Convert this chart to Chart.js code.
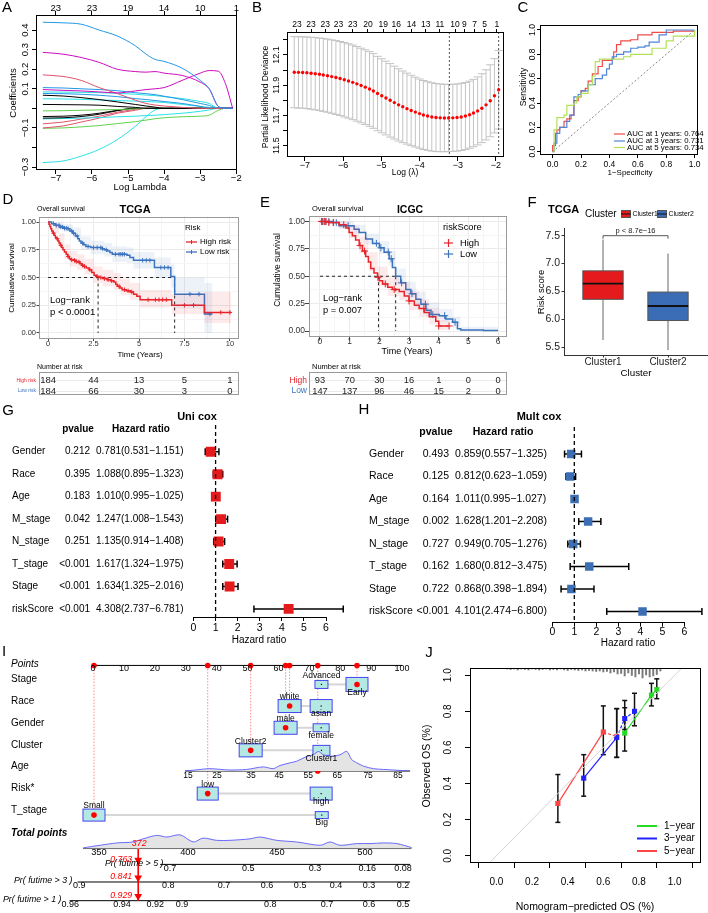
<!DOCTYPE html>
<html lang="en">
<head>
<meta charset="UTF-8">
<title>Prognostic signature figure</title>
<script src="https://cdn.jsdelivr.net/npm/chart.js@4.4.1/dist/chart.umd.min.js"></script>
<style>
  body { margin: 0; background: #fff; }
  #page { position: relative; width: 708px; height: 913px; overflow: hidden; background: #fff; }
  #page canvas { position: absolute; left: 0; top: 0; }
</style>
</head>
<body>
<div id="page"></div>
<script>
// ---------------- data ----------------
// A: lasso coefficient paths
const lamA = [-7.36, -6.8, -6.3, -5.8, -5.3, -4.8, -4.5, -4.25, -4.0, -3.5, -3.0, -2.75, -2.5, -2.3, -2.1];
const coefA = [
  [0.44, 0.437, 0.43, 0.40, 0.37, 0.32, 0.277, 0.25, 0.24, 0.205, 0.143, 0.10, 0.01, 0, 0],
  [0.286, 0.277, 0.26, 0.235, 0.20, 0.188, 0.185, 0.188, 0.18, 0.168, 0.134, 0.10, 0.01, 0, 0],
  [0.096, 0.092, 0.089, 0.084, 0.079, 0.089, 0.096, 0.10, 0.106, 0.143, 0.18, 0.193, 0.19, 0.126, 0],
  [0.171, 0.163, 0.143, 0.106, 0.076, 0.042, 0.025, 0.017, 0.012, 0.005, 0, 0, 0, 0, 0],
  [0.106, 0.104, 0.10, 0.096, 0.09, 0.08, 0.075, 0.07, 0.062, 0.045, 0.025, 0.015, 0, 0, 0],
  [0.084, 0.083, 0.082, 0.08, 0.077, 0.072, 0.068, 0.065, 0.06, 0.05, 0.035, 0.025, 0, 0, 0],
  [0.076, 0.075, 0.072, 0.067, 0.06, 0.05, 0.045, 0.04, 0.035, 0.025, 0.01, 0, 0, 0, 0],
  [0.067, 0.063, 0.055, 0.045, 0.033, 0.02, 0.012, 0.006, 0, 0, 0, 0, 0, 0, 0],
  [0.049, 0.048, 0.046, 0.043, 0.04, 0.037, 0.035, 0.033, 0.03, 0.02, 0.01, 0.005, 0, 0, 0],
  [0.02, 0.019, 0.018, 0.016, 0.01, 0.005, 0, 0, 0, 0, 0, 0, 0, 0, 0],
  [-0.013, -0.012, -0.01, -0.008, -0.006, -0.003, 0, 0, 0, 0, 0, 0, 0, 0, 0],
  [-0.042, -0.04, -0.035, -0.025, -0.01, 0, 0, 0, 0, 0, 0, 0, 0, 0, 0],
  [-0.05, -0.048, -0.042, -0.03, -0.012, 0, 0, 0, 0, 0, 0, 0, 0, 0, 0],
  [-0.054, -0.052, -0.05, -0.047, -0.043, -0.04, -0.037, -0.035, -0.032, -0.025, -0.015, -0.008, 0, 0, 0],
  [-0.079, -0.07, -0.055, -0.04, -0.02, -0.005, 0, 0, 0, 0, 0, 0, 0, 0, 0],
  [-0.1, -0.09, -0.07, -0.05, -0.025, -0.01, 0, 0, 0, 0, 0, 0, 0, 0, 0],
  [-0.102, -0.1, -0.095, -0.088, -0.078, -0.068, -0.06, -0.053, -0.048, -0.043, -0.04, -0.035, -0.01, 0, 0],
  [-0.277, -0.269, -0.244, -0.21, -0.16, -0.092, -0.042, -0.008, 0, 0, 0, 0, 0, 0, 0]
];
const colA = ['#2297E6', '#CD0BBC', '#CD0BBC', '#DF536B', '#2297E6', '#28E2E5', '#2297E6', '#000000', '#28E2E5',
  '#000000', '#61D04F', '#000000', '#000000', '#28E2E5', '#DF536B', '#DF536B', '#61D04F', '#28E2E5'];
const xTicksA = [-7, -6, -5, -4, -3, -2];
const xLabA = ['−7', '−6', '−5', '−4', '−3', '−2'];
const topLabA = ['23', '23', '19', '14', '10', '1'];
const yTicksA = [-0.3, -0.2, -0.1, 0, 0.1, 0.2, 0.3, 0.4];
const yLabA = ['−0.3', '', '−0.1', '', '0.1', '0.2', '0.3', '0.4'];

// B: cross-validation curve
const lamB = [-7.28, -7.17, -7.06, -6.95, -6.84, -6.73, -6.62, -6.52, -6.41, -6.30, -6.19, -6.08, -5.97, -5.86, -5.75,
  -5.64, -5.53, -5.42, -5.31, -5.21, -5.10, -4.99, -4.88, -4.77, -4.66, -4.55, -4.44, -4.33, -4.22, -4.11, -4.00,
  -3.90, -3.79, -3.68, -3.57, -3.46, -3.35, -3.24, -3.13, -3.02, -2.91, -2.80, -2.69, -2.59, -2.48, -2.37, -2.26,
  -2.15, -2.04, -1.93];
const cvmB = [11.986, 11.985, 11.984, 11.982, 11.979, 11.976, 11.972, 11.968, 11.963, 11.957, 11.951, 11.944, 11.936,
  11.928, 11.919, 11.909, 11.898, 11.887, 11.875, 11.862, 11.845, 11.830, 11.815, 11.800, 11.785, 11.770, 11.757,
  11.745, 11.733, 11.722, 11.712, 11.703, 11.696, 11.690, 11.686, 11.684, 11.683, 11.683, 11.684, 11.686, 11.690,
  11.696, 11.705, 11.716, 11.730, 11.748, 11.770, 11.797, 11.830, 11.870];
const sdB = [0.235, 0.236, 0.236, 0.237, 0.238, 0.239, 0.240, 0.241, 0.242, 0.243, 0.244, 0.245, 0.246, 0.246, 0.247,
  0.247, 0.247, 0.247, 0.247, 0.247, 0.246, 0.245, 0.244, 0.243, 0.241, 0.239, 0.237, 0.235, 0.233, 0.231, 0.229,
  0.228, 0.227, 0.226, 0.225, 0.224, 0.223, 0.222, 0.222, 0.222, 0.222, 0.222, 0.222, 0.223, 0.225, 0.228, 0.232,
  0.238, 0.246, 0.260];
const lamMinB = -3.22, lam1seB = -1.93;
const topPosB = [-7.21, -6.84, -6.47, -6.12, -5.75, -5.35, -4.95, -4.61, -4.21, -3.84, -3.47, -3.07, -2.83, -2.56, -2.30, -1.98];
const topLabB = ['23', '23', '23', '23', '23', '20', '19', '16', '14', '13', '11', '10', '9', '7', '5', '1'];
const yTicksB = [11.5, 11.6, 11.7, 11.8, 11.9, 12.0, 12.1, 12.2];
const yLabB = ['11.5', '', '11.7', '', '11.9', '', '12.1', ''];

// C: time-dependent ROC
const rocX1 = [0, 0, 0.02, 0.02, 0.03, 0.05, 0.08, 0.1, 0.13, 0.15, 0.18, 0.2, 0.23, 0.25, 0.28, 0.32, 0.35, 0.42, 0.43, 0.45, 0.48, 0.55, 0.6, 0.7, 0.85, 1];
const rocY1 = [0, 0.05, 0.1, 0.15, 0.18, 0.2, 0.25, 0.27, 0.3, 0.42, 0.45, 0.5, 0.52, 0.58, 0.64, 0.7, 0.75, 0.76, 0.82, 0.88, 0.91, 0.92, 0.96, 0.98, 0.99, 1];
const rocX3 = [0, 0.01, 0.03, 0.05, 0.1, 0.12, 0.15, 0.18, 0.2, 0.25, 0.3, 0.35, 0.38, 0.4, 0.42, 0.45, 0.5, 0.55, 0.6, 0.65, 0.68, 0.75, 0.8, 1];
const rocY3 = [0, 0.07, 0.15, 0.2, 0.25, 0.3, 0.45, 0.47, 0.5, 0.55, 0.6, 0.63, 0.68, 0.72, 0.78, 0.8, 0.82, 0.85, 0.86, 0.87, 0.9, 0.96, 1, 1];
const rocX5 = [0, 0.01, 0.03, 0.08, 0.1, 0.15, 0.17, 0.2, 0.25, 0.28, 0.3, 0.33, 0.45, 0.5, 0.55, 0.7, 0.8, 0.85, 1];
const rocY5 = [0, 0.18, 0.28, 0.3, 0.38, 0.4, 0.45, 0.48, 0.55, 0.62, 0.74, 0.76, 0.76, 0.78, 0.8, 0.85, 0.91, 0.95, 1];
const aucLab = ['AUC at 1 years: 0.764', 'AUC at 3 years: 0.731', 'AUC at 5 years: 0.734'];
const unitTicks = [0, 0.2, 0.4, 0.6, 0.8, 1];
const unitLab = ['0.0', '0.2', '0.4', '0.6', '0.8', '1.0'];

// D: TCGA Kaplan-Meier
const kmTD_hi = [0, 0.05, 0.1, 0.15, 0.2, 0.27, 0.33, 0.4, 0.47, 0.54, 0.6, 0.67, 0.75, 0.82, 0.9, 1.0, 1.08, 1.17, 1.27, 1.4,
  1.5, 1.63, 1.75, 1.85, 1.99, 2.1, 2.26, 2.4, 2.53, 2.65, 2.8, 3.0, 3.25, 3.45, 3.62, 3.72, 3.8, 3.95, 4.07, 4.3, 4.52,
  4.7, 4.88, 5.06, 6.8, 8.6, 10.07];
const kmSD_hi = [1, 0.98, 0.96, 0.94, 0.92, 0.9, 0.88, 0.86, 0.85, 0.83, 0.81, 0.79, 0.77, 0.75, 0.73, 0.71, 0.69, 0.67,
  0.66, 0.655, 0.645, 0.64, 0.625, 0.61, 0.60, 0.585, 0.57, 0.545, 0.52, 0.51, 0.50, 0.49, 0.48, 0.47, 0.46, 0.44, 0.42,
  0.405, 0.39, 0.38, 0.37, 0.35, 0.33, 0.30, 0.25, 0.185, 0.185];
const kmTD_lo = [0, 0.2, 0.4, 0.63, 0.85, 1.08, 1.2, 1.36, 1.5, 1.63, 1.72, 1.81, 1.95, 2.08, 2.35, 2.98, 3.1, 3.25, 3.4,
  3.53, 4.34, 4.5, 4.7, 5.85, 6.75, 6.96, 8.6, 9.04];
const kmSD_lo = [1, 0.985, 0.97, 0.955, 0.945, 0.94, 0.92, 0.9, 0.875, 0.85, 0.83, 0.81, 0.795, 0.78, 0.77, 0.76, 0.75,
  0.74, 0.725, 0.71, 0.70, 0.68, 0.655, 0.59, 0.51, 0.35, 0.17, 0.17];
const censD_hi = [0.3, 0.5, 0.7, 1.1, 1.3, 1.45, 1.55, 1.7, 1.9, 2.0, 2.3, 2.7, 2.9, 3.1, 3.3, 3.5, 3.9, 4.2, 4.4, 4.6, 5.5,
  5.9, 6.1, 6.3, 6.5, 7.5, 8.0, 9.5, 10.0];
const censD_lo = [0.3, 0.45, 0.6, 0.7, 0.8, 0.9, 1.0, 1.1, 1.3, 1.4, 1.6, 1.9, 2.2, 2.5, 2.7, 2.9, 3.0, 3.2, 3.7, 3.9, 4.0,
  4.1, 4.2, 5.2, 5.4, 5.6, 6.2, 6.4, 6.6, 7.8, 8.3, 8.9];
const bandTD_hi = [0, 0.3, 0.6, 0.9, 1.2, 1.6, 2.0, 2.5, 3.0, 3.6, 4.0, 4.5, 5.06, 6.8, 8.6, 10.07];
const bandUD_hi = [1, 0.97, 0.9, 0.8, 0.74, 0.71, 0.67, 0.6, 0.57, 0.54, 0.49, 0.45, 0.39, 0.35, 0.37, 0.37];
const bandLD_hi = [1, 0.9, 0.8, 0.67, 0.6, 0.57, 0.53, 0.45, 0.42, 0.39, 0.34, 0.3, 0.23, 0.17, 0.09, 0.09];
const bandTD_lo = [0, 0.4, 0.85, 1.36, 1.81, 2.35, 3.1, 3.53, 4.34, 4.7, 5.85, 6.75, 6.96, 8.6, 9.04];
const bandUD_lo = [1, 1.0, 0.98, 0.95, 0.87, 0.83, 0.81, 0.78, 0.77, 0.73, 0.68, 0.62, 0.5, 0.45, 0.45];
const bandLD_lo = [1, 0.94, 0.91, 0.85, 0.75, 0.71, 0.69, 0.64, 0.63, 0.58, 0.5, 0.41, 0.22, 0.0, 0.0];
const medD = [2.75, 6.96];
const xTicksD = [0, 2.5, 5, 7.5, 10];
const xLabD = ['0', '2.5', '5', '7.5', '10'];
const riskD = [[184, 44, 13, 5, 1], [184, 66, 30, 3, 0]];

// E: ICGC Kaplan-Meier
const kmTE_hi = [0, 0.3, 0.64, 0.87, 0.98, 1.09, 1.2, 1.32, 1.43, 1.54, 1.63, 1.71, 1.82, 1.94, 2.0, 2.11, 2.28, 2.44, 2.67,
  2.84, 3.0, 3.18, 3.34, 3.51, 3.68, 3.9, 4.0, 4.35];
const kmSE_hi = [1, 0.99, 0.97, 0.94, 0.90, 0.87, 0.83, 0.78, 0.73, 0.68, 0.63, 0.57, 0.53, 0.49, 0.46, 0.43, 0.40, 0.38,
  0.36, 0.32, 0.275, 0.235, 0.205, 0.17, 0.13, 0.09, 0.046, 0.046];
const kmTE_lo = [0, 0.41, 0.64, 0.98, 1.15, 1.32, 1.54, 1.77, 2.0, 2.16, 2.33, 2.44, 2.55, 2.72, 2.89, 3.06, 3.23, 3.4, 3.57,
  3.74, 4.02, 4.24, 4.47, 4.63, 4.74, 5.5, 6.0];
const kmSE_lo = [1, 0.99, 0.96, 0.96, 0.93, 0.90, 0.84, 0.80, 0.76, 0.72, 0.66, 0.58, 0.50, 0.44, 0.38, 0.34, 0.29, 0.245,
  0.19, 0.15, 0.14, 0.11, 0.08, 0.02, 0.01, 0.005, 0.005];
const censE_hi = [0.05, 0.1, 0.15, 0.2, 0.3, 0.45, 0.8, 1.35, 1.5, 1.95, 2.2, 2.5, 3.0, 3.5, 4.0, 4.35];
const censE_lo = [0.08, 0.2, 0.3, 0.45, 0.55, 0.95, 1.9, 2.05, 2.3, 2.4, 2.75, 3.1, 3.55, 3.8, 4.2, 4.55];
const bandTE_hi = [0, 0.64, 0.98, 1.32, 1.63, 1.94, 2.28, 2.67, 3.0, 3.34, 3.68, 4.0, 4.35];
const bandUE_hi = [1, 1, 0.96, 0.86, 0.72, 0.59, 0.49, 0.45, 0.37, 0.29, 0.21, 0.1, 0.1];
const bandLE_hi = [1, 0.94, 0.85, 0.71, 0.55, 0.41, 0.32, 0.28, 0.19, 0.13, 0.06, 0.01, 0.01];
const bandTE_lo = [0, 0.64, 1.15, 1.54, 2.0, 2.33, 2.55, 2.89, 3.23, 3.57, 4.02, 4.47, 4.74, 6.0];
const bandUE_lo = [1, 1, 0.97, 0.89, 0.82, 0.73, 0.57, 0.45, 0.36, 0.26, 0.2, 0.13, 0.04, 0.04];
const bandLE_lo = [1, 0.93, 0.89, 0.79, 0.70, 0.59, 0.43, 0.31, 0.22, 0.13, 0.08, 0.03, 0.0, 0.0];
const medE = [1.97, 2.55];
const xTicksE = [0, 1, 2, 3, 4, 5, 6];
const riskE = [[93, 70, 30, 16, 1, 0, 0], [147, 137, 96, 46, 15, 2, 0]];
const survTicks = [0, 0.25, 0.5, 0.75, 1];
const survLab = ['0.00', '0.25', '0.50', '0.75', '1.00'];
const survMinor = [0.125, 0.375, 0.625, 0.875];

// F: risk score by cluster
const clusters = ['Cluster1', 'Cluster2'];
const boxMin = [5.63, 5.45], boxQ1 = [6.36, 5.98], boxMed = [6.64, 6.24], boxQ3 = [6.87, 6.49], boxMax = [7.43, 7.18];
const yTicksF = [5.5, 6.0, 6.5, 7.0, 7.5];
const yLabF = ['5.5', '6.0', '6.5', '7.0', '7.5'];

// G, H: Cox regression
const coxVars = ['Gender', 'Race', 'Age', 'M_stage', 'N_stage', 'T_stage', 'Stage', 'riskScore'];
const uniP = ['0.212', '0.395', '0.183', '0.042', '0.251', '<0.001', '<0.001', '<0.001'];
const uniHR = [0.781, 1.088, 1.010, 1.247, 1.135, 1.617, 1.634, 4.308];
const uniLo = [0.531, 0.895, 0.995, 1.008, 0.914, 1.324, 1.325, 2.737];
const uniHi = [1.151, 1.323, 1.025, 1.543, 1.408, 1.975, 2.016, 6.781];
const multP = ['0.493', '0.125', '0.164', '0.002', '0.727', '0.162', '0.722', '<0.001'];
const multHR = [0.859, 0.812, 1.011, 1.628, 0.949, 1.680, 0.868, 4.101];
const multLo = [0.557, 0.623, 0.995, 1.201, 0.705, 0.812, 0.398, 2.474];
const multHi = [1.325, 1.059, 1.027, 2.208, 1.276, 3.475, 1.894, 6.800];
const hrTicks = [0, 1, 2, 3, 4, 5, 6];

// I: nomogram (positions on the Points scale)
const nomoVars = ['Stage', 'Race', 'Gender', 'Cluster', 'Risk*', 'T_stage'];
const nomoLev = [['Advanced', 'Early'], ['white', 'asian'], ['male', 'female'], ['Cluster2', 'Cluster1'], ['low', 'high'], ['Small', 'Big']];
const nomoLevPts = [[73.9, 85.4], [63.6, 73.8], [62.3, 73.8], [51.0, 73.9], [37.1, 73.8], [0.3, 74.0]];
const nomoPick = [1, 0, 0, 0, 0, 0];
const pointTicks = [0, 10, 20, 30, 40, 50, 60, 70, 80, 90, 100];
const ageTicks = ['15', '25', '35', '45', '55', '65', '75', '85'];
const ageTickPts = [30.7, 40.1, 51.1, 60.2, 69.6, 79.0, 89.0, 98.7];
const ageSelPts = 72.7;
const ageDensPts = [29.8, 33.7, 37.5, 41.4, 44.3, 49.7, 55.1, 58.3, 60.5, 63.8, 65.9, 69.2, 71.3, 72.9, 74.5, 76.7, 79.9,
  82.1, 83.7, 85.3, 87.5, 90.7, 93.9, 97.2, 102.0];
const ageDens = [0.0, 0.06, 0.12, 0.08, 0.05, 0.08, 0.21, 0.12, 0.28, 0.42, 0.5, 0.75, 0.83, 1.0, 0.83, 0.75, 0.83, 1.0,
  0.58, 0.42, 0.25, 0.12, 0.08, 0.05, 0.0];
const totTicks = ['350', '400', '450', '500'];
const totTickPts = [1.9, 30.7, 59.5, 88.0];
const totDensPts = [-3.2, 2.3, 7.7, 12.9, 16.2, 20.6, 23.9, 28.2, 32.4, 35.6, 40, 44.3, 50.8, 54, 59.4, 65.9, 73.5, 76.7,
  79.9, 85.3, 89.6, 93.9, 98.3, 103.1];
const totDens = [0.05, 0.24, 0.41, 0.48, 0.71, 0.96, 0.84, 1.0, 0.48, 0.76, 0.6, 0.6, 0.71, 0.84, 0.6, 0.48, 0.24, 0.48,
  0.24, 0.36, 0.36, 0.41, 0.36, 0.07];
const totalSel = '372', totalSelPts = 14.6;
const prNames = ['Pr( futime > 5 )', 'Pr( futime > 3 )', 'Pr( futime > 1 )'];
const prTicks = [['0.7', '0.5', '0.3', '0.16', '0.08'], ['0.9', '0.8', '0.7', '0.6', '0.5', '0.4', '0.3', '0.2'],
  ['0.96', '0.94', '0.92', '0.9', '0.8', '0.7', '0.6', '0.5']];
const prTickPts = [[24.9, 50.2, 71.8, 88.7, 100.3], [-4.5, 24.3, 42.4, 56.3, 67.0, 78.6, 89.3, 100.3],
  [-7.4, 9.4, 20.1, 28.8, 57.3, 75.7, 89.3, 100.3]];
const prSel = ['0.763', '0.841', '0.929'];

// J: calibration
const calX1 = [0.72, 0.87, 0.90], calY1 = [0.68, 0.89, 0.92], calLo1 = [0.58, 0.83, 0.87], calHi1 = [0.86, 0.955, 0.98];
const calX3 = [0.49, 0.675, 0.72, 0.775], calY3 = [0.43, 0.655, 0.76, 0.80], calLo3 = [0.33, 0.545, 0.70, 0.72], calHi3 = [0.56, 0.815, 0.82, 0.90];
const calX5 = [0.345, 0.60, 0.675], calY5 = [0.29, 0.685, 0.66], calLo5 = [0.185, 0.56, 0.545], calHi5 = [0.45, 0.83, 0.815];
const histX = [0.06, 0.08, 0.10, 0.12, 0.14, 0.16, 0.18, 0.20, 0.22, 0.24, 0.26, 0.28, 0.30, 0.32, 0.34, 0.36, 0.38, 0.40,
  0.42, 0.44, 0.46, 0.48, 0.50, 0.52, 0.54, 0.56, 0.58, 0.60, 0.62, 0.64, 0.66, 0.68, 0.70, 0.72, 0.74, 0.76, 0.78, 0.80,
  0.82, 0.84, 0.86, 0.88, 0.90, 0.92];
const histH = [0.1, 0.15, 0.1, 0.2, 0.1, 0.15, 0.2, 0.1, 0.15, 0.2, 0.15, 0.1, 0.2, 0.15, 0.2, 0.1, 0.2, 0.25, 0.15, 0.2,
  0.25, 0.2, 0.3, 0.25, 0.3, 0.35, 0.3, 0.4, 0.35, 0.5, 0.4, 0.6, 0.55, 0.8, 0.5, 0.75, 0.9, 0.6, 1.0, 0.7, 0.9, 0.8, 0.65, 0.3];
const calNames = ['1−year', '3−year', '5−year'];
const calDashed = [[], [1, 2], [1]];   // segments drawn dashed in the reference

// ---------------- helpers ----------------
const W = 708, H = 913;
const FONT = '"Liberation Sans", Arial, Helvetica, sans-serif';
Chart.defaults.font.family = FONT;
Chart.defaults.animation = false;
Chart.defaults.responsive = false;
Chart.defaults.events = [];
Chart.defaults.plugins.legend.display = false;
Chart.defaults.plugins.tooltip.enabled = false;

const page = document.getElementById('page');
function addChart(box, cfg) {
  const cv = document.createElement('canvas');
  cv.width = W; cv.height = H;
  page.appendChild(cv);
  cfg.options = cfg.options || {};
  cfg.options.layout = {padding: {left: box[0], top: box[1], right: W - box[2], bottom: H - box[3]}};
  return new Chart(cv.getContext('2d'), cfg);
}
function sc(min, max, ticks, o) {
  o = o || {};
  const s = {
    type: 'linear', min: min, max: max, reverse: !!o.reverse,
    afterFit: k => { if (k.isHorizontal()) k.height = 0; else k.width = 0; },
    afterBuildTicks: k => { k.ticks = (ticks || []).map(v => ({value: v})); },
    ticks: {display: false},
    border: {display: !!o.border, color: o.bc || '#000', width: 1},
    grid: {
      display: !!(ticks && ticks.length),
      drawOnChartArea: !!o.gridColor,
      color: o.gridColor || '#000',
      drawTicks: (o.tl || 0) > 0,
      tickLength: o.tl || 0,
      tickColor: o.tc || '#000',
      lineWidth: 1
    }
  };
  if (o.position) s.position = o.position;
  if (o.hide) s.display = false;
  return s;
}
let pid = 0;
function before(fn) { return {id: 'b' + (pid++), beforeDatasetsDraw: c => fn(c, c.ctx, c.chartArea, c.scales)}; }
function after(fn) { return {id: 'a' + (pid++), afterDraw: c => fn(c, c.ctx, c.chartArea, c.scales)}; }
function txt(ctx, s, x, y, o) {
  o = o || {};
  ctx.save();
  ctx.font = (o.it ? 'italic ' : '') + (o.b ? 'bold ' : '') + (o.size || 10) + 'px ' + FONT;
  ctx.fillStyle = o.color || '#000';
  ctx.textAlign = o.align || 'center';
  ctx.textBaseline = 'middle';
  ctx.translate(x, y);
  if (o.rot) ctx.rotate(o.rot * Math.PI / 180);
  ctx.fillText(s, 0, 0);
  ctx.restore();
}
function line(ctx, x1, y1, x2, y2, color, w, dash) {
  ctx.save();
  ctx.strokeStyle = color; ctx.lineWidth = w || 1; ctx.setLineDash(dash || []);
  ctx.beginPath(); ctx.moveTo(x1, y1); ctx.lineTo(x2, y2); ctx.stroke();
  ctx.restore();
}
function frame(c, color) {
  const a = c.chartArea, ctx = c.ctx;
  ctx.save(); ctx.strokeStyle = color; ctx.lineWidth = 1;
  ctx.strokeRect(Math.round(a.left) + 0.5, Math.round(a.top) + 0.5, Math.round(a.right - a.left) - 1, Math.round(a.bottom - a.top) - 1);
  ctx.restore();
}
function pts(xs, ys) { return xs.map((x, i) => ({x: x, y: ys[i]})); }
function ln(data, color, w, extra) {
  return Object.assign({type: 'line', data: data, borderColor: color, backgroundColor: color, borderWidth: w, pointRadius: 0, fill: false}, extra || {});
}
function stepAt(ts, ss, t) { let v = ss[0]; for (let i = 0; i < ts.length; i++) if (ts[i] <= t) v = ss[i]; return v; }

// ---------------- A ----------------
addChart([36, 15, 237, 170], {
  type: 'scatter',
  data: {datasets: coefA.map((c, i) => ln(pts(lamA, c), colA[i], 1, {cubicInterpolationMode: 'monotone'}))},
  options: {scales: {
    x: sc(-7.55, -1.98, xTicksA, {tl: 4}),
    x2: sc(-7.55, -1.98, xTicksA, {tl: 4, position: 'top'}),
    y: sc(-0.315, 0.477, yTicksA, {tl: 4})
  }},
  plugins: [after((c, ctx, a, s) => {
    frame(c, '#000');
    xTicksA.forEach((v, i) => {
      const x = s.x.getPixelForValue(v);
      txt(ctx, xLabA[i], x, 178, {size: 9.5});
      txt(ctx, topLabA[i], x, 8, {size: 9.5});
    });
    yTicksA.forEach((v, i) => { if (yLabA[i]) txt(ctx, yLabA[i], 25, s.y.getPixelForValue(v), {size: 9.5, rot: -90}); });
    txt(ctx, 'Coefficients', 13, 93, {size: 9.5, rot: -90});
    txt(ctx, 'Log Lambda', 140, 187, {size: 9.5});
    // panel letters
    [['A', 7, 8], ['B', 257, 8], ['C', 523, 8], ['D', 8, 200], ['E', 265, 203], ['F', 532, 203],
     ['G', 8, 411], ['H', 364, 410], ['I', 4, 652], ['J', 429, 653]].forEach(l => txt(ctx, l[0], l[1], l[2], {size: 15}));
  })]
});

// ---------------- B ----------------
addChart([287, 32, 504, 157], {
  type: 'scatter',
  data: {datasets: [{data: pts(lamB, cvmB), pointRadius: 1.7, backgroundColor: '#FF0000', borderColor: '#FF0000', borderWidth: 0}]},
  options: {scales: {
    x: sc(-7.47, -1.79, xTicksA, {tl: 4}),
    x2: sc(-7.47, -1.79, topPosB, {tl: 3, position: 'top'}),
    y: sc(11.425, 12.252, yTicksB, {tl: 4})
  }},
  plugins: [
    before((c, ctx, a, s) => {
      const bw = 0.107;
      lamB.forEach((l, i) => {
        const x = s.x.getPixelForValue(l);
        const y1 = s.y.getPixelForValue(cvmB[i] + sdB[i]), y2 = s.y.getPixelForValue(cvmB[i] - sdB[i]);
        const xl = s.x.getPixelForValue(l - bw), xr = s.x.getPixelForValue(l + bw);
        line(ctx, x, y1, x, y2, '#C4C4C4', 1);
        line(ctx, xl, y1, xr, y1, '#C4C4C4', 1);
        line(ctx, xl, y2, xr, y2, '#C4C4C4', 1);
      });
      [lamMinB, lam1seB].forEach(l => { const x = s.x.getPixelForValue(l); line(ctx, x, a.top, x, a.bottom, '#555', 1, [2, 2]); });
    }),
    after((c, ctx, a, s) => {
      frame(c, '#000');
      xTicksA.forEach((v, i) => txt(ctx, xLabA[i], s.x.getPixelForValue(v), 166, {size: 9}));
      topPosB.forEach((v, i) => txt(ctx, topLabB[i], s.x.getPixelForValue(v), 25, {size: 8.5}));
      yTicksB.forEach((v, i) => { if (yLabB[i]) txt(ctx, yLabB[i], 277, s.y.getPixelForValue(v), {size: 9, rot: -90}); });
      txt(ctx, 'Partial Likelihood Deviance', 266, 97, {size: 8.5, rot: -90});
      txt(ctx, 'Log (λ)', 405, 173, {size: 8.5});
    })
  ]
});

// ---------------- C ----------------
const rocCol = ['#EE4B4B', '#4F86D8', '#B3E05A'];
addChart([540, 25, 698, 155], {
  type: 'scatter',
  data: {datasets: [
    ln([{x: 0, y: 0}, {x: 1, y: 1}], '#888', 1, {borderDash: [2, 2]}),
    ln(pts(rocX5, rocY5), rocCol[2], 1.2, {stepped: true}),
    ln(pts(rocX3, rocY3), rocCol[1], 1.2, {stepped: true}),
    ln(pts(rocX1, rocY1), rocCol[0], 1.2, {stepped: true})
  ]},
  options: {scales: {
    x: sc(-0.089, 1.024, unitTicks, {tl: 3}),
    y: sc(-0.027, 1.041, unitTicks, {tl: 3})
  }},
  plugins: [after((c, ctx, a, s) => {
    frame(c, '#000');
    unitTicks.forEach((v, i) => {
      txt(ctx, unitLab[i], s.x.getPixelForValue(v), 165, {size: 8.5});
      txt(ctx, unitLab[i], 533, s.y.getPixelForValue(v), {size: 8.5, rot: -90});
    });
    txt(ctx, '1−Specificity', 630, 173, {size: 8});
    txt(ctx, 'Sensitivity', 524, 87, {size: 8.5, rot: -90});
    [134, 141, 147.5].forEach((y, i) => {
      line(ctx, 614, y, 625, y, rocCol[i], 1.2);
      txt(ctx, aucLab[i], 627, y, {size: 7.8, align: 'left'});
    });
  })]
});

// ---------------- D / E: survival ----------------
function kmPanel(o) {
  const ds = [];
  o.bands.forEach(b => {
    ds.push(ln(pts(b.t, b.hi), 'rgba(0,0,0,0)', 0, {stepped: true, fill: '+1', backgroundColor: b.fill}));
    ds.push(ln(pts(b.t, b.lo), 'rgba(0,0,0,0)', 0, {stepped: true}));
  });
  o.curves.forEach(k => ds.push(ln(pts(k.t, k.s), k.col, 1.5, {stepped: true})));
  o.curves.forEach(k => ds.push({
    data: k.cens.map(t => ({x: t, y: stepAt(k.t, k.s, t)})),
    pointStyle: 'cross', pointRadius: o.censR, borderWidth: 1, borderColor: k.col, backgroundColor: k.col
  }));
  const mMax = Math.max.apply(null, o.med);
  ds.push(ln([{x: 0, y: 0.5}, {x: mMax, y: 0.5}], '#222', 1, {borderDash: [3, 3]}));
  o.med.forEach(m => ds.push(ln([{x: m, y: 0.5}, {x: m, y: 0}], '#222', 1, {borderDash: [3, 3]})));
  addChart(o.box, {
    type: 'scatter',
    data: {datasets: ds},
    options: {scales: {
      x: sc(o.xr[0], o.xr[1], o.xt, {gridColor: '#EBEBEB', tl: o.tl, tc: '#444'}),
      xm: sc(o.xr[0], o.xr[1], o.xm, {gridColor: '#F5F5F5', position: 'bottom'}),
      y: sc(-0.05, 1.05, survTicks, {gridColor: '#EBEBEB', tl: o.tl, tc: '#444'}),
      ym: sc(-0.05, 1.05, survMinor, {gridColor: '#F5F5F5', position: 'left'})
    }},
    plugins: [after((c, ctx, a, s) => { frame(c, '#9A9A9A'); o.draw(c, ctx, a, s); })]
  });
}
function riskTable(box, xr, times, rows, labels, cols, labX, labSize, numSize) {
  addChart(box, {
    type: 'scatter',
    data: {datasets: []},
    options: {scales: {
      x: sc(xr[0], xr[1], [], {hide: true}),
      y: sc(-0.81, 1.38, [0, 1], {reverse: true, gridColor: '#EBEBEB'})
    }},
    plugins: [after((c, ctx, a, s) => {
      frame(c, '#9A9A9A');
      rows.forEach((r, j) => {
        const y = s.y.getPixelForValue(j);
        r.forEach((n, i) => txt(ctx, String(n), s.x.getPixelForValue(times[i]), y, {size: numSize, color: '#222'}));
        txt(ctx, labels[j], labX, y, {size: labSize, align: 'right', color: cols[j]});
      });
    })]
  });
}
const redKM = '#E8242A', blueKM = '#3C74BE';

kmPanel({
  box: [39, 216.5, 239, 338.5], xr: [-0.5, 10.5], xt: xTicksD, xm: [1.25, 3.75, 6.25, 8.75], tl: 2.5, censR: 2.2, med: medD,
  bands: [
    {t: bandTD_hi, hi: bandUD_hi, lo: bandLD_hi, fill: 'rgba(232,36,42,0.09)'},
    {t: bandTD_lo, hi: bandUD_lo, lo: bandLD_lo, fill: 'rgba(60,116,190,0.09)'}
  ],
  curves: [
    {t: kmTD_hi, s: kmSD_hi, cens: censD_hi, col: redKM},
    {t: kmTD_lo, s: kmSD_lo, cens: censD_lo, col: blueKM}
  ],
  draw: (c, ctx, a, s) => {
    survTicks.forEach((v, i) => txt(ctx, survLab[i], 36, s.y.getPixelForValue(v), {size: 7.5, align: 'right', color: '#333'}));
    xTicksD.forEach((v, i) => txt(ctx, xLabD[i], s.x.getPixelForValue(v), 344, {size: 7.5, color: '#333'}));
    txt(ctx, 'Time (Years)', 140, 355, {size: 8});
    txt(ctx, 'Cumulative survival', 12, 278, {size: 8, rot: -90});
    txt(ctx, 'TCGA', 135, 210, {size: 11, b: true});
    txt(ctx, 'Overall survival', 37, 209, {size: 7, align: 'left'});
    txt(ctx, 'Log−rank', 50, 300, {size: 9.5, align: 'left'});
    txt(ctx, 'p < 0.0001', 50, 312, {size: 9.5, align: 'left'});
    txt(ctx, 'Risk', 185, 228, {size: 8, align: 'left'});
    [['High risk', redKM, 242], ['Low risk', blueKM, 252]].forEach(l => {
      line(ctx, 186, l[2], 197, l[2], l[1], 1.3);
      line(ctx, 191.5, l[2] - 2, 191.5, l[2] + 2, l[1], 1);
      txt(ctx, l[0], 200, l[2], {size: 8, align: 'left'});
    });
    txt(ctx, 'Number at risk', 37, 367, {size: 7, align: 'left'});
  }
});
riskTable([39, 372, 239, 395], [-0.5, 10.5], xTicksD, riskD, ['High risk', 'Low risk'], [redKM, blueKM], 36, 5, 9.5);

kmPanel({
  box: [309, 216, 507, 336.5], xr: [-0.37, 6.3], xt: xTicksE, xm: [0.5, 1.5, 2.5, 3.5, 4.5, 5.5], tl: 4, censR: 3.5, med: medE,
  bands: [
    {t: bandTE_hi, hi: bandUE_hi, lo: bandLE_hi, fill: 'rgba(232,36,42,0.09)'},
    {t: bandTE_lo, hi: bandUE_lo, lo: bandLE_lo, fill: 'rgba(60,116,190,0.09)'}
  ],
  curves: [
    {t: kmTE_hi, s: kmSE_hi, cens: censE_hi, col: redKM},
    {t: kmTE_lo, s: kmSE_lo, cens: censE_lo, col: blueKM}
  ],
  draw: (c, ctx, a, s) => {
    survTicks.forEach((v, i) => txt(ctx, survLab[i], 305, s.y.getPixelForValue(v), {size: 8.5, align: 'right', color: '#333'}));
    xTicksE.forEach(v => txt(ctx, String(v), s.x.getPixelForValue(v), 342, {size: 8.5, color: '#333'}));
    txt(ctx, 'Time (Years)', 407, 352, {size: 9});
    txt(ctx, 'Cumulative survival', 278, 270, {size: 8.5, rot: -90});
    txt(ctx, 'ICGC', 410, 210, {size: 10.5, b: true});
    txt(ctx, 'Overall survival', 312, 209, {size: 7.5, align: 'left'});
    txt(ctx, 'Log−rank', 323, 298, {size: 9.3, align: 'left'});
    txt(ctx, 'p = 0.007', 323, 310, {size: 9.3, align: 'left'});
    txt(ctx, 'riskScore', 443, 227, {size: 9.3, align: 'left'});
    [['High', redKM, 243], ['Low', blueKM, 254]].forEach(l => {
      line(ctx, 444, l[2], 453, l[2], l[1], 1.2);
      line(ctx, 448.5, l[2] - 4, 448.5, l[2] + 4, l[1], 1.2);
      txt(ctx, l[0], 460, l[2], {size: 9.3, align: 'left'});
    });
    txt(ctx, 'Number at risk', 312, 367, {size: 7.5, align: 'left'});
  }
});
riskTable([309, 372, 507, 395], [-0.37, 6.3], xTicksE, riskE, ['High', 'Low'], [redKM, blueKM], 307, 8.5, 9.3);

// ---------------- F: boxplot ----------------
const boxColF = ['#E41A1C', '#3A6DB5'];
const boxHalfF = 0.31;
addChart([564, 228, 707, 355], {
  type: 'scatter',
  data: {datasets: []},
  options: {scales: {
    x: sc(0.4, 2.6, [1, 2], {tl: 2.5, tc: '#333', border: true, bc: '#333'}),
    y: sc(5.362, 7.638, yTicksF, {tl: 2.5, tc: '#333', border: true, bc: '#333'})
  }},
  plugins: [
    before((c, ctx, a, s) => {
      clusters.forEach((k, i) => {
        const xc = s.x.getPixelForValue(i + 1);
        const xl = s.x.getPixelForValue(i + 1 - boxHalfF), xr = s.x.getPixelForValue(i + 1 + boxHalfF);
        line(ctx, xc, s.y.getPixelForValue(boxMax[i]), xc, s.y.getPixelForValue(boxMin[i]), '#666', 1);
        const y3 = s.y.getPixelForValue(boxQ3[i]), y1 = s.y.getPixelForValue(boxQ1[i]);
        ctx.save();
        ctx.fillStyle = boxColF[i]; ctx.fillRect(xl, y3, xr - xl, y1 - y3);
        ctx.strokeStyle = '#555'; ctx.lineWidth = 1; ctx.strokeRect(xl, y3, xr - xl, y1 - y3);
        ctx.restore();
        const ym = s.y.getPixelForValue(boxMed[i]);
        line(ctx, xl, ym, xr, ym, '#111', 1.8);
      });
      const yb = s.y.getPixelForValue(7.5), x1 = s.x.getPixelForValue(1), x2 = s.x.getPixelForValue(2);
      line(ctx, x1, yb, x2, yb, '#555', 1);
      line(ctx, x1, yb, x1, yb + 3, '#555', 1);
      line(ctx, x2, yb, x2, yb + 3, '#555', 1);
      txt(ctx, 'p < 8.7e−16', (x1 + x2) / 2, yb - 4.5, {size: 7.5, color: '#222'});
    }),
    after((c, ctx, a, s) => {
      yTicksF.forEach((v, i) => txt(ctx, yLabF[i], 560, s.y.getPixelForValue(v), {size: 10.5, align: 'right', color: '#222'}));
      clusters.forEach((k, i) => txt(ctx, k, s.x.getPixelForValue(i + 1), 362, {size: 10, color: '#222'}));
      txt(ctx, 'Cluster', 636, 373, {size: 9.8});
      txt(ctx, 'Risk score', 541, 292, {size: 9.5, rot: -90});
      txt(ctx, 'TCGA', 548, 210, {size: 11, b: true, align: 'left'});
      txt(ctx, 'Cluster', 585, 214, {size: 10, align: 'left'});
      [[621, 'Cluster1'], [657, 'Cluster2']].forEach((l, i) => {
        ctx.save(); ctx.fillStyle = boxColF[i]; ctx.fillRect(l[0], 210.5, 10, 7);
        ctx.strokeStyle = '#555'; ctx.strokeRect(l[0] + 0.5, 210.5, 9, 7); ctx.restore();
        line(ctx, l[0], 214, l[0] + 10, 214, '#111', 1);
        txt(ctx, l[1], l[0] + 11.5, 214, {size: 6.8, align: 'left'});
      });
    })
  ]
});

// ---------------- G / H: forest plots ----------------
function forest(o) {
  addChart(o.box, {
    type: 'scatter',
    data: {datasets: [
      ln([{x: 1, y: o.yr[0]}, {x: 1, y: o.yr[1]}], '#000', 1.3, {borderDash: [4, 3]}),
      {data: o.hr.map((v, i) => ({x: v, y: i})), pointStyle: 'rect', pointRadius: o.r, backgroundColor: o.col, borderColor: o.col, borderWidth: 0}
    ]},
    options: {scales: {
      x: sc(0, 6, hrTicks, {tl: 4, border: true}),
      y: sc(o.yr[0], o.yr[1], [], {reverse: true, hide: true})
    }},
    plugins: [
      before((c, ctx, a, s) => {
        o.hr.forEach((v, i) => {
          const y = s.y.getPixelForValue(i), x1 = s.x.getPixelForValue(o.lo[i]), x2 = s.x.getPixelForValue(o.hi[i]);
          line(ctx, x1, y, x2, y, '#000', 1.5);
          line(ctx, x1, y - 3.5, x1, y + 3.5, '#000', 1.5);
          line(ctx, x2, y - 3.5, x2, y + 3.5, '#000', 1.5);
        });
      }),
      after((c, ctx, a, s) => {
        const f = o.fs;
        coxVars.forEach((v, i) => {
          const y = s.y.getPixelForValue(i);
          txt(ctx, v, o.nameX, y, {size: f, align: 'left'});
          txt(ctx, o.p[i], o.pX, y, {size: f, align: 'right'});
          txt(ctx, o.hr[i].toFixed(3) + '(' + o.lo[i].toFixed(3) + '−' + o.hi[i].toFixed(3) + ')', o.hrX, y, {size: f, align: 'left'});
        });
        txt(ctx, 'pvalue', o.pHead, o.headY, {size: f, b: true});
        txt(ctx, 'Hazard ratio', o.hrHead, o.headY, {size: f, b: true});
        txt(ctx, o.title, o.titleX, 417, {size: 11, b: true});
        hrTicks.forEach(v => txt(ctx, String(v), s.x.getPixelForValue(v), o.labY, {size: 10.5}));
        txt(ctx, 'Hazard ratio', o.axTitleX, o.axTitleY, {size: 10});
      })
    ]
  });
}
forest({box: [193.5, 425, 326, 617], yr: [-1.19, 7.36], hr: uniHR, lo: uniLo, hi: uniHi, p: uniP, col: '#E41A1C', r: 7,
  fs: 10, nameX: 12, pX: 90, hrX: 96, pHead: 78, hrHead: 141, headY: 429, title: 'Uni cox', titleX: 197,
  labY: 628, axTitleX: 259, axTitleY: 640});
forest({box: [552.3, 427, 684.3, 622.7], yr: [-1.2, 7.5], hr: multHR, lo: multLo, hi: multHi, p: multP, col: '#3C6EB4', r: 6,
  fs: 10.5, nameX: 369, pX: 449, hrX: 455, pHead: 436, hrHead: 503, headY: 432, title: 'Mult cox', titleX: 539,
  labY: 632, axTitleX: 628, axTitleY: 643});

// ---------------- I: nomogram ----------------
const yI = {points: 0.03, Stage: 0.905, Race: 1.9, Gender: 2.9, Cluster: 3.94, Age: 4.89, 'Risk*': 5.93, T_stage: 6.92,
  total: 8.46, pr: [9.19, 10.0, 10.86]};
const nomoBox = [[[13, 8], [22, 14]], [[23, 13], [22, 13]], [[23, 13], [16, 8]], [[23, 13], [17, 10]], [[21, 13], [22, 13]], [[22, 12], [13, 7]]];
const prStart = [21.7, -5.0, -7.6];
const prNameX = [105, 14, 3];
const pickPts = nomoVars.map((v, i) => nomoLevPts[i][nomoPick[i]]).concat([ageSelPts]);
const pickRows = nomoVars.map(v => yI[v]).concat([yI.Age]);
const redDots = pickPts.map((p, i) => ({x: p, y: pickRows[i]})).concat(pickPts.map(p => ({x: p, y: yI.points})));
addChart([60, 655, 412, 913], {
  type: 'scatter',
  data: {datasets: [
    ln(ageDensPts.map((p, i) => ({x: p, y: yI.Age - ageDens[i] * 0.9})), '#5a5aff', 0.9, {fill: {value: yI.Age}, backgroundColor: '#E4E4E4', tension: 0.3}),
    ln(totDensPts.map((p, i) => ({x: p, y: yI.total - totDens[i] * 0.63})), '#5a5aff', 0.9, {fill: {value: yI.total}, backgroundColor: '#E4E4E4', tension: 0.3}),
    ln([{x: totalSelPts, y: yI.total - 0.2}, {x: totalSelPts, y: yI.pr[2]}], '#FF0000', 1.6),
    {data: redDots, pointRadius: 2.8, backgroundColor: '#FF0000', borderWidth: 0},
    {data: [yI.total].concat(yI.pr).map(y => ({x: totalSelPts, y: y - 0.2})), pointStyle: 'triangle', pointRotation: 180, rotation: 180,
      pointRadius: 4.5, backgroundColor: '#FF0000', borderWidth: 0}
  ]},
  options: {scales: {x: sc(-10.7, 103.2, [], {hide: true}), y: sc(-0.45, 11.22, [], {reverse: true, hide: true})}},
  plugins: [
    before((c, ctx, a, s) => {
      const X = v => s.x.getPixelForValue(v), Y = v => s.y.getPixelForValue(v);
      pickPts.forEach((p, i) => line(ctx, X(p), Y(pickRows[i]), X(p), Y(yI.points), '#FF8A8A', 1, [1.5, 1.5]));
      line(ctx, X(0), Y(yI.points), X(100), Y(yI.points), '#000', 1);
      line(ctx, X(ageDensPts[0]), Y(yI.Age), X(102.6), Y(yI.Age), '#000', 1);
      line(ctx, X(-3.2), Y(yI.total), X(103), Y(yI.total), '#000', 1);
      yI.pr.forEach((r, j) => line(ctx, X(prStart[j]), Y(r), X(102.6), Y(r), '#000', 1));
      nomoVars.forEach((v, i) => {
        const y = Y(yI[v]);
        const b0 = nomoBox[i][0], b1 = nomoBox[i][1];
        const x0 = X(nomoLevPts[i][0]), x1 = X(nomoLevPts[i][1]);
        line(ctx, x0 + b0[0] / 2, y, x1 - b1[0] / 2, y, '#D6D6D6', 2);
        [0, 1].forEach(k => {
          const b = nomoBox[i][k], xc = X(nomoLevPts[i][k]);
          ctx.save();
          ctx.fillStyle = '#B4E8E2'; ctx.fillRect(xc - b[0] / 2, y - b[1] / 2, b[0], b[1]);
          ctx.strokeStyle = '#4444EE'; ctx.lineWidth = 1; ctx.strokeRect(xc - b[0] / 2, y - b[1] / 2, b[0], b[1]);
          if (k !== nomoPick[i]) { ctx.fillStyle = '#000'; ctx.fillRect(xc - 0.6, y - 0.6, 1.2, 1.2); }
          ctx.restore();
        });
      });
    }),
    after((c, ctx, a, s) => {
      const X = v => s.x.getPixelForValue(v), Y = v => s.y.getPixelForValue(v);
      txt(ctx, 'Points', 11, Y(yI.points) - 1, {size: 10, it: true, align: 'left'});
      nomoVars.concat(['Age']).forEach(v => txt(ctx, v, 11, Y(yI[v]) - 5, {size: 10, align: 'left'}));
      txt(ctx, 'Total points', 11, 833, {size: 10, it: true, b: true, align: 'left'});
      pointTicks.forEach(v => txt(ctx, String(v), X(v), Y(yI.points) + 3, {size: 9}));
      nomoVars.forEach((v, i) => {
        const y = Y(yI[v]);
        txt(ctx, nomoLev[i][0], X(nomoLevPts[i][0]), y - 9, {size: 8.5});
        txt(ctx, nomoLev[i][1], X(nomoLevPts[i][1]), y + 8, {size: 8.5});
      });
      ageTicks.forEach((t, i) => txt(ctx, t, X(ageTickPts[i]), Y(yI.Age) + 4.5, {size: 8.5}));
      totTicks.forEach((t, i) => txt(ctx, t, X(totTickPts[i]), Y(yI.total) + 4, {size: 9.3}));
      yI.pr.forEach((r, j) => {
        txt(ctx, prNames[j], prNameX[j], Y(r) - 1, {size: 8.8, it: true, align: 'left'});
        prTicks[j].forEach((t, i) => txt(ctx, t, X(prTickPts[j][i]), Y(r) + 4, {size: 9}));
        txt(ctx, prSel[j], X(totalSelPts) - 6, Y(r) - 5, {size: 8.8, it: true, color: '#FF0000', align: 'right'});
      });
      txt(ctx, totalSel, X(totalSelPts) + 1, Y(yI.total) - 5, {size: 8.8, it: true, color: '#FF0000'});
    })
  ]
});

// ---------------- J: calibration ----------------
const calCol = ['#22DD22', '#2222FF', '#FF4444'];
const calSets = [[calX1, calY1, calLo1, calHi1], [calX3, calY3, calLo3, calHi3], [calX5, calY5, calLo5, calHi5]];
function calLine(k) {
  return ln(pts(calSets[k][0], calSets[k][1]), calCol[k], 1.2, {
    segment: {borderDash: sg => (calDashed[k].indexOf(sg.p0DataIndex) >= 0 ? [3, 2] : undefined)}
  });
}
addChart([470, 668, 701, 863], {
  type: 'scatter',
  data: {datasets: [
    ln([{x: -0.04, y: -0.04}, {x: 1.04, y: 1.04}], '#D4D4D4', 1),
    {type: 'bar', data: histX.map((x, i) => ({x: x, y: [1.04 - histH[i] * 0.055, 1.04]})), backgroundColor: '#7A7A7A', barThickness: 1.3},
    calLine(0), calLine(1), calLine(2),
    {data: pts(calX1, calY1), pointStyle: 'rect', pointRadius: 3.6, backgroundColor: calCol[0], borderWidth: 0},
    {data: pts(calX3, calY3), pointStyle: 'rect', pointRadius: 3.6, backgroundColor: calCol[1], borderWidth: 0},
    {data: pts(calX5, calY5), pointStyle: 'rect', pointRadius: 3.6, backgroundColor: calCol[2], borderWidth: 0},
    {data: pts(calX1.concat(calX3, calX5), calY1.concat(calY3, calY5)), pointStyle: 'crossRot', pointRadius: 3, borderColor: '#8A3FB0', borderWidth: 1}
  ]},
  options: {scales: {
    x: sc(-0.04, 1.04, unitTicks, {tl: 5}),
    y: sc(-0.04, 1.04, unitTicks, {tl: 5})
  }},
  plugins: [
    before((c, ctx, a, s) => {
      calSets.forEach(cs => cs[0].forEach((x, i) => {
        const px = s.x.getPixelForValue(x), y1 = s.y.getPixelForValue(cs[2][i]), y2 = s.y.getPixelForValue(cs[3][i]);
        line(ctx, px, y1, px, y2, '#111', 1.5);
        line(ctx, px - 2.5, y1, px + 2.5, y1, '#111', 1.5);
        line(ctx, px - 2.5, y2, px + 2.5, y2, '#111', 1.5);
      }));
    }),
    after((c, ctx, a, s) => {
      frame(c, '#000');
      unitTicks.forEach((v, i) => {
        txt(ctx, unitLab[i], s.x.getPixelForValue(v), 882, {size: 10});
        txt(ctx, unitLab[i], 448, s.y.getPixelForValue(v), {size: 10, rot: -90});
      });
      txt(ctx, 'Nomogram−predicted OS (%)', 585, 907, {size: 10.5});
      txt(ctx, 'Observed OS (%)', 427, 766, {size: 10.5, rot: -90});
      [826, 838.5, 851].forEach((y, i) => {
        line(ctx, 637, y, 657, y, calCol[i], 2);
        txt(ctx, calNames[i], 664, y, {size: 10, align: 'left'});
      });
    })
  ]
});
</script>
</body>
</html>
